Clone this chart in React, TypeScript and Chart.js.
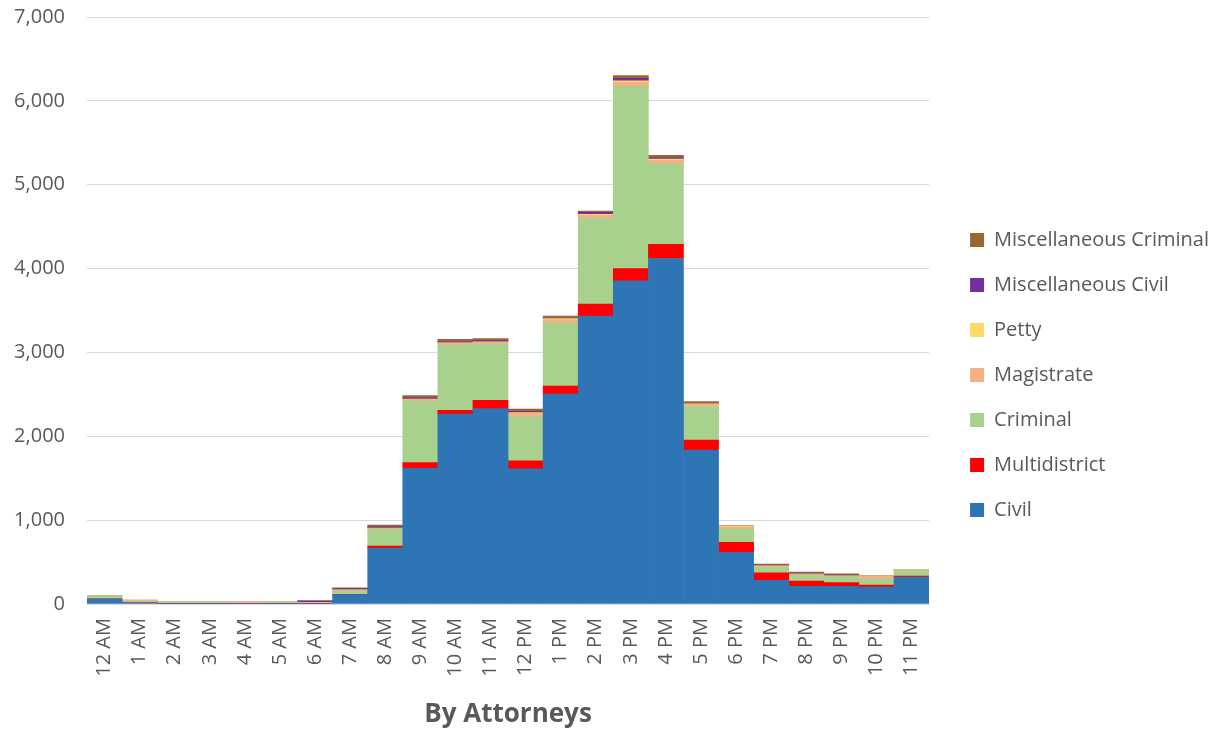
import React, { useEffect, useRef } from 'react';
import { Chart, registerables } from 'chart.js';

Chart.register(...registerables);

const hours = ['12 AM', '1 AM', '2 AM', '3 AM', '4 AM', '5 AM', '6 AM', '7 AM', '8 AM', '9 AM', '10 AM', '11 AM',
  '12 PM', '1 PM', '2 PM', '3 PM', '4 PM', '5 PM', '6 PM', '7 PM', '8 PM', '9 PM', '10 PM', '11 PM'];

const civil = [60, 15, 5, 5, 5, 5, 5, 111, 667, 1617, 2265, 2330, 1612, 2503, 3433, 3855, 4120, 1835, 616, 282, 211, 211, 203, 322];
const multidistrict = [3, 3, 0, 0, 0, 0, 0, 5, 25, 68, 45, 100, 96, 95, 143, 145, 170, 120, 119, 91, 63, 43, 24, 12];
const criminal = [30, 15, 15, 15, 3, 15, 5, 40, 200, 735, 780, 670, 525, 755, 1020, 2170, 960, 400, 162, 68, 72, 72, 71, 71];
const magistrate = [5, 10, 2, 2, 15, 2, 10, 10, 10, 20, 20, 20, 40, 40, 40, 50, 40, 30, 24, 12, 10, 8, 36, 5];
const petty = [0, 0, 0, 0, 0, 0, 0, 3, 3, 5, 5, 5, 10, 10, 10, 20, 15, 3, 10, 2, 2, 2, 3, 0];
const miscCivil = [0, 0, 0, 0, 0, 0, 15, 15, 15, 15, 15, 15, 15, 5, 25, 30, 20, 5, 0, 8, 8, 8, 0, 0];
const miscCriminal = [0, 5, 0, 0, 0, 0, 5, 8, 20, 25, 25, 25, 25, 25, 15, 30, 25, 20, 0, 12, 15, 15, 0, 0];

const yTicks = [0, 1000, 2000, 3000, 4000, 5000, 6000, 7000];

const TEXT = '#595959';
const FONT = "'Open Sans', sans-serif";

const legendShift = {
  id: 'legendShift',
  beforeDraw(chart: any) {
    const lg = chart.legend;
    if (lg && !lg._shifted) {
      lg.left += 16;
      lg.right += 16;
      lg._shifted = true;
    }
  },
};

export default function App() {
  const ref = useRef<HTMLCanvasElement>(null);
  useEffect(() => {
    document.body.style.margin = '0';
    const mk = (label: string, data: number[], color: string) => ({
      label,
      data,
      backgroundColor: color,
      borderWidth: 0,
      barPercentage: 1,
      categoryPercentage: 1,
    });
    const chart = new Chart(ref.current!, {
      type: 'bar',
      data: {
        labels: hours,
        datasets: [
          mk('Civil', civil, '#2E75B6'),
          mk('Multidistrict', multidistrict, '#FF0000'),
          mk('Criminal', criminal, '#A9D18E'),
          mk('Magistrate', magistrate, '#F4B183'),
          mk('Petty', petty, '#FFD966'),
          mk('Miscellaneous Civil', miscCivil, '#7030A0'),
          mk('Miscellaneous Criminal', miscCriminal, '#996633'),
        ],
      },
      options: {
        animation: false,
        responsive: false,
        layout: { padding: { top: 17, right: 20, left: 0, bottom: 0 } },
        plugins: {
          legend: {
            position: 'right',
            reverse: true,
            labels: {
              boxWidth: 14,
              boxHeight: 14,
              padding: 25,
              color: TEXT,
              font: { family: FONT, size: 20 },
            },
          },
          tooltip: { enabled: false },
        },
        scales: {
          x: {
            stacked: true,
            grid: { display: false, drawTicks: false },
            border: { display: true, color: '#D9D9D9', width: 1 },
            ticks: {
              color: TEXT,
              font: { family: FONT, size: 20 },
              minRotation: 90,
              maxRotation: 90,
              autoSkip: false,
              padding: 14,
            },
            title: {
              display: true,
              text: 'By Attorneys',
              color: TEXT,
              font: { family: FONT, size: 26, weight: 'bold' },
              padding: { top: 0, bottom: 3 },
            },
            afterFit: (s: any) => { s.height = 129; },
          },
          y: {
            stacked: true,
            min: 0,
            max: 7000,
            grid: { color: '#D9D9D9', drawTicks: true, tickLength: 22, tickColor: 'rgba(0,0,0,0)' },
            border: { display: false },
            afterBuildTicks: (s: any) => { s.ticks = yTicks.map((v) => ({ value: v })); },
            ticks: {
              color: TEXT,
              font: { family: FONT, size: 20 },
              padding: 0,
              callback: (v: any) => Number(v).toLocaleString('en-US'),
            },
            afterFit: (s: any) => { s.width = 87; },
          },
        },
      },
      plugins: [legendShift],
    });
    return () => chart.destroy();
  }, []);
  return (
    <div style={{ position: 'absolute', left: 0, top: 0, width: 1223, height: 733 }}>
      <canvas ref={ref} width={1223} height={733} />
    </div>
  );
}
